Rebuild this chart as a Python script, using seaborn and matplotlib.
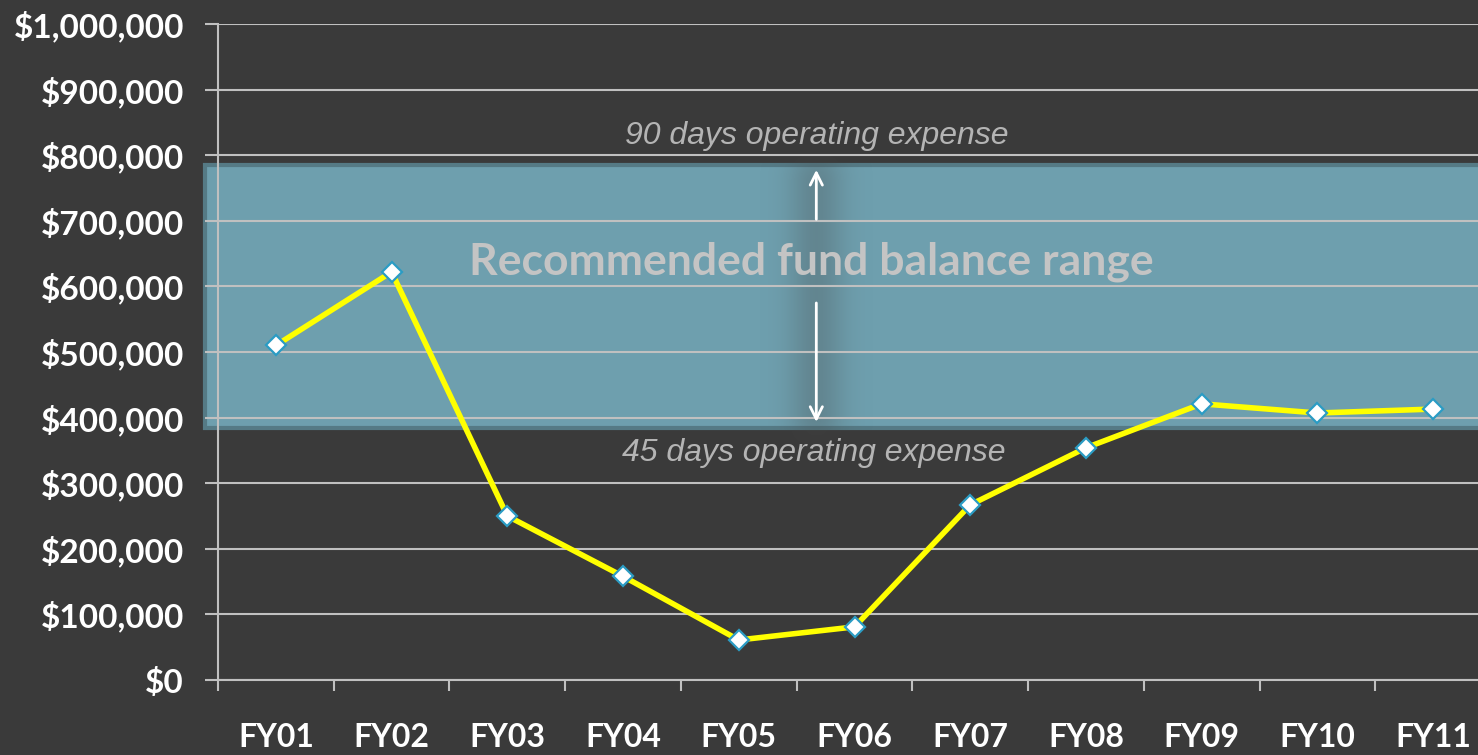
import matplotlib
matplotlib.use("Agg")
import numpy as np
import matplotlib.pyplot as plt
import matplotlib.transforms as mtransforms
from matplotlib.patches import Rectangle
from matplotlib.ticker import FuncFormatter, MultipleLocator, FixedLocator
import seaborn as sns

years = ["FY01", "FY02", "FY03", "FY04", "FY05", "FY06",
         "FY07", "FY08", "FY09", "FY10", "FY11"]
balances = [510000, 622000, 250000, 158000, 61000, 81000,
            267000, 354000, 421000, 407000, 413000]
range_low = 384000    # 45 days operating expense
range_high = 785000   # 90 days operating expense

bg = "#3a3a3a"
grid_col = "#c0c0c0"

sns.set_style("dark")
plt.rcParams["font.family"] = ["Lato", "DejaVu Sans"]

fig = plt.figure(figsize=(14.78, 7.55), dpi=100, facecolor=bg)
ax = fig.add_axes([218 / 1478, 75 / 755, 1273 / 1478, 656 / 755])
ax.set_facecolor(bg)

# recommended range band (sticks out a bit left of the axis like the original)
trans = mtransforms.blended_transform_factory(ax.transAxes, ax.transData)
band = Rectangle((-0.0105, range_low), 1.02, range_high - range_low,
                 transform=trans, facecolor="#6e9fae", edgecolor="#557a85",
                 linewidth=3, zorder=0.2, clip_on=False)
ax.add_patch(band)

sns.lineplot(x=years, y=balances, ax=ax, color="#ffff00", linewidth=4,
             marker="D", markersize=10.5, markerfacecolor="white",
             markeredgecolor="#2b9cc4", markeredgewidth=1.6, zorder=5)

ax.set_xlim(-0.5, len(years) - 0.5)
ax.set_ylim(0, 1000000)
ax.yaxis.set_major_locator(MultipleLocator(100000))
ax.yaxis.set_major_formatter(FuncFormatter(lambda v, p: f"${v:,.0f}"))
ax.xaxis.set_minor_locator(FixedLocator([i - 0.5 for i in range(len(years) + 1)]))

ax.grid(axis="y", color=grid_col, linewidth=1.5)
ax.grid(axis="x", visible=False)
ax.set_axisbelow(True)

for side in ["top", "right"]:
    ax.spines[side].set_visible(False)
for side in ["left", "bottom"]:
    ax.spines[side].set_visible(True)
    ax.spines[side].set_color(grid_col)
    ax.spines[side].set_linewidth(1.5)

ax.tick_params(axis="y", which="major", direction="out", length=9.5, width=1.5,
               color=grid_col, left=True, labelsize=24, labelcolor="white", pad=15)
ax.tick_params(axis="x", which="major", length=0, labelsize=23,
               labelcolor="white", pad=31)
ax.tick_params(axis="x", which="minor", direction="out", length=8, width=1.5,
               color=grid_col, bottom=True)
for lbl in ax.get_xticklabels() + ax.get_yticklabels():
    lbl.set_fontweight("bold")
ax.set_xlabel("")
ax.set_ylabel("")

# soft dark glow behind the arrows
xc = 4.67
gx = np.linspace(-1, 1, 80)
gy = np.linspace(-1, 1, 120)
GX, GY = np.meshgrid(gx, gy)
alpha = np.exp(-(GX / 0.4) ** 2) * np.clip(1.1 - np.abs(GY) ** 10, 0, 1) * 0.28
rgba = np.zeros((len(gy), len(gx), 4))
rgba[..., :3] = 0.27
rgba[..., 3] = alpha
ax.imshow(rgba, extent=(xc - 0.6, xc + 0.6, range_low - 35000, range_high + 25000),
          aspect="auto", zorder=0.3, interpolation="bilinear")

# annotations
ax.text(4.625, 637000, "Recommended fund balance range", ha="center", va="center",
        fontsize=32, fontweight="bold", color="#c4c4c4", zorder=6)
ax.text(xc, 829000, "90 days operating expense", ha="center", va="center",
        fontsize=23, style="italic", color="#b4b4b4",
        family=["Liberation Sans", "DejaVu Sans"], zorder=6)
ax.text(4.65, 346000, "45 days operating expense", ha="center", va="center",
        fontsize=23, style="italic", color="#b4b4b4",
        family=["Liberation Sans", "DejaVu Sans"], zorder=6)

ax.annotate("", xy=(xc, range_high - 3000), xytext=(xc, 698000),
            arrowprops=dict(arrowstyle="->", color="white", lw=2,
                            mutation_scale=22), zorder=6)
ax.annotate("", xy=(xc, range_low + 5000), xytext=(xc, 579000),
            arrowprops=dict(arrowstyle="->", color="white", lw=2,
                            mutation_scale=22), zorder=6)

ax.set_xlim(-0.5, len(years) - 0.5)
ax.set_ylim(0, 1000000)

fig.savefig("out.png", dpi=100, facecolor=bg)
